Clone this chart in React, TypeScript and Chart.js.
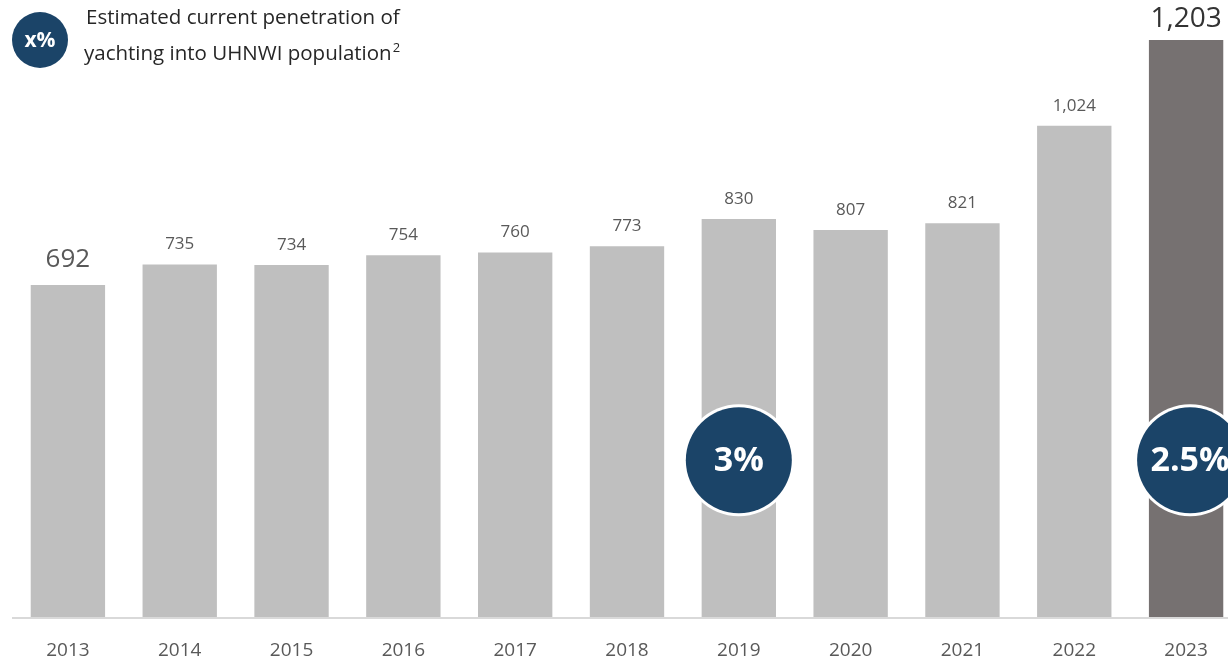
import React, { useEffect, useRef } from "react";
import { Chart, registerables } from "chart.js";

Chart.register(...registerables);

const years = ["2013", "2014", "2015", "2016", "2017", "2018", "2019", "2020", "2021", "2022", "2023"];
const yachtCounts = [692, 735, 734, 754, 760, 773, 830, 807, 821, 1024, 1203];
const valueLabels = ["692", "735", "734", "754", "760", "773", "830", "807", "821", "1,024", "1,203"];
const penetrationYears = ["2019", "2023"];
const penetrationLabels = ["3%", "2.5%"];
const legendLines = ["Estimated current penetration of", "yachting into UHNWI population"];

const FONT = "'Open Sans', 'Liberation Sans', sans-serif";
const BLUE = "#1b4468";

const overlay = {
  id: "overlay",
  afterDatasetsDraw(chart: any) {
    const { ctx, chartArea, scales } = chart;
    const meta = chart.getDatasetMeta(0);
    ctx.save();
    // axis line
    ctx.strokeStyle = "#d9d9d9";
    ctx.lineWidth = 2;
    ctx.beginPath();
    ctx.moveTo(chartArea.left, chartArea.bottom + 1);
    ctx.lineTo(chartArea.right + 20, chartArea.bottom + 1);
    ctx.stroke();

    // value labels
    ctx.textAlign = "center";
    ctx.textBaseline = "alphabetic";
    meta.data.forEach((bar: any, i: number) => {
      const first = i === 0;
      const last = i === meta.data.length - 1;
      const size = first ? 26 : last ? 28 : 17;
      ctx.font = `${size}px ${FONT}`;
      ctx.fillStyle = last ? "#333333" : "#595959";
      const gap = first ? 18 : last ? 13 : 15;
      ctx.fillText(valueLabels[i], bar.x, bar.y - gap);
    });

    // penetration circles
    const cy = scales.y.getPixelForValue(327);
    penetrationYears.forEach((yr, k) => {
      const idx = years.indexOf(yr);
      const cx = meta.data[idx].x + (k === 1 ? 4 : 0);
      ctx.beginPath();
      ctx.arc(cx, cy, 56, 0, Math.PI * 2);
      ctx.fillStyle = "#ffffff";
      ctx.fill();
      ctx.beginPath();
      ctx.arc(cx, cy, 53, 0, Math.PI * 2);
      ctx.fillStyle = BLUE;
      ctx.fill();
      ctx.fillStyle = "#ffffff";
      ctx.font = `bold 34px ${FONT}`;
      ctx.textBaseline = "middle";
      ctx.fillText(penetrationLabels[k], cx, cy + 1);
    });

    // legend
    ctx.beginPath();
    ctx.arc(40, 40, 28, 0, Math.PI * 2);
    ctx.fillStyle = BLUE;
    ctx.fill();
    ctx.fillStyle = "#ffffff";
    ctx.font = `bold 21px ${FONT}`;
    ctx.textAlign = "center";
    ctx.textBaseline = "middle";
    ctx.fillText("x%", 40, 41);

    ctx.fillStyle = "#262626";
    ctx.textAlign = "left";
    ctx.textBaseline = "alphabetic";
    ctx.font = `20.5px ${FONT}`;
    ctx.fillText(legendLines[0], 86, 24);
    ctx.fillText(legendLines[1], 84, 60);
    const w = ctx.measureText(legendLines[1]).width;
    ctx.font = `13px ${FONT}`;
    ctx.fillText("2", 84 + w + 1, 52);
    ctx.restore();
  },
};

export default function App() {
  const ref = useRef<HTMLCanvasElement>(null);
  useEffect(() => {
    const chart = new Chart(ref.current!, {
      type: "bar",
      data: {
        labels: years,
        datasets: [
          {
            data: yachtCounts,
            backgroundColor: years.map((_, i) => (i === years.length - 1 ? "#767171" : "#bfbfbf")),
            barPercentage: 0.665,
            categoryPercentage: 1,
          },
        ],
      },
      options: {
        responsive: false,
        animation: false,
        layout: { padding: { left: 12, right: 8, top: 40, bottom: 0 } },
        plugins: { legend: { display: false }, tooltip: { enabled: false } },
        scales: {
          x: {
            grid: { display: false },
            border: { display: false },
            ticks: { color: "#595959", font: { size: 19, family: FONT }, padding: 14 },
            afterFit(scale: any) {
              scale.height = 43;
            },
          },
          y: { display: false, min: 0, max: 1203 },
        },
      },
      plugins: [overlay],
    });
    return () => chart.destroy();
  }, []);
  return (
    <div style={{ position: "fixed", left: 0, top: 0, width: 1228, height: 660, overflow: "hidden", background: "#fff" }}>
      <canvas ref={ref} width={1250} height={660} style={{ display: "block" }} />
    </div>
  );
}
